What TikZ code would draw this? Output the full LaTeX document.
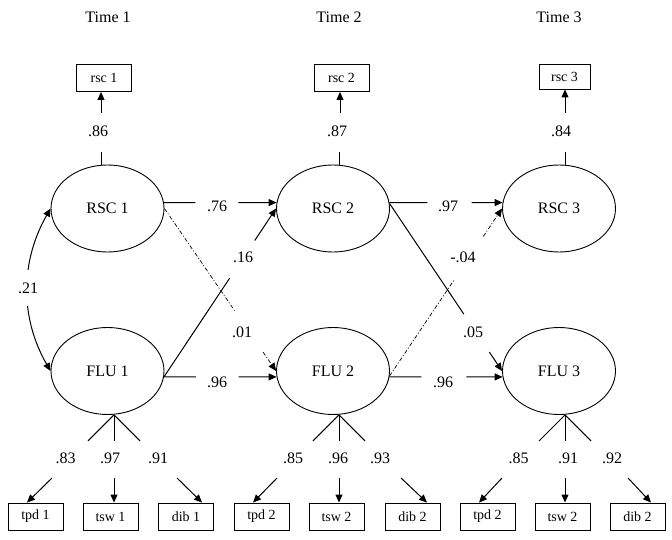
\documentclass[tikz,border=0pt]{standalone}
\usepackage{fontspec}
\setmainfont{Liberation Serif}
\usetikzlibrary{arrows.meta,shapes.geometric,calc}
\begin{document}
\begin{tikzpicture}[x=1pt,y=-1pt,
  lat/.style={draw,ellipse,minimum width=113pt,minimum height=87pt,inner sep=0pt,line width=0.9pt,font=\fontsize{16}{18}\selectfont},
  obs/.style={draw,rectangle,minimum width=55pt,minimum height=27pt,inner sep=0pt,line width=0.9pt,font=\fontsize{14}{16}\selectfont},
  lbl/.style={inner sep=0pt,font=\fontsize{16}{18}\selectfont},
  conn/.style={line width=1pt},
  tip/.style={-{Triangle[length=8pt,width=7pt]}},
  arr/.style={conn,tip},
  dd/.style={line width=0.7pt,dash pattern=on 4pt off 2pt on 1pt off 2pt},
]
\useasboundingbox (0,0) rectangle (672,540);

% time headers
\node[lbl] (time1) at (108,17) {Time 1};
\node[lbl] (time2) at (339,17) {Time 2};
\node[lbl] (time3) at (559,17) {Time 3};

% single indicators
\node[obs] (rsc1) at (104,78) {rsc 1};
\node[obs] (rsc2) at (341.5,78) {rsc 2};
\node[obs,minimum width=51pt,minimum height=25pt] (rsc3) at (564.5,76.5) {rsc 3};

% latent variables
\node[lat] (R1) at (107.5,208.5) {RSC 1};
\node[lat] (R2) at (333,208.5) {RSC 2};
\node[lat] (R3) at (559,208.5) {RSC 3};
\node[lat] (F1) at (107.5,371) {FLU 1};
\node[lat] (F2) at (333,371) {FLU 2};
\node[lat] (F3) at (559,371) {FLU 3};

% loadings on rsc
\coordinate (a1) at (101,113); \draw[arr] (a1) -- (a1 |- rsc1.south);
\coordinate (a2) at (340,113); \draw[arr] (a2) -- (a2 |- rsc2.south);
\coordinate (a3) at (565,113); \draw[arr] (a3) -- (a3 |- rsc3.south);
\node[lbl] (l86) at (98,131) {.86};
\node[lbl] (l87) at (337,131) {.87};
\node[lbl] (l84) at (561,131) {.84};
\coordinate (b1) at (101,152); \draw[conn] (b1) -- (b1 |- R1.north);
\coordinate (b2) at (339,152); \draw[conn] (b2) -- (b2 |- R2.north);
\coordinate (b3) at (565,152); \draw[conn] (b3) -- (b3 |- R3.north);

% autoregressive paths
\draw[conn] (R1.6) -- ($(R1.6)!0.28!(R2.174)$);
\draw[arr] ($(R1.6)!0.66!(R2.174)$) -- (R2.174);
\node[lbl] (l76) at (217,206) {.76};
\draw[conn] (R2.6) -- ($(R2.6)!0.336!(R3.174)$);
\draw[arr] ($(R2.6)!0.726!(R3.174)$) -- (R3.174);
\node[lbl] (l97) at (448,206) {.97};
\draw[conn] (F1.-6) -- ($(F1.-6)!0.283!(F2.186)$);
\draw[arr] ($(F1.-6)!0.664!(F2.186)$) -- (F2.186);
\node[lbl] (l96a) at (217,382) {.96};
\draw[conn] (F2.-6) -- ($(F2.-6)!0.283!(F3.186)$);
\draw[arr] ($(F2.-6)!0.68!(F3.186)$) -- (F3.186);
\node[lbl] (l96b) at (443,382) {.96};

% cross-lagged paths
\draw[conn] (F1.-6) -- ($(F1.-6)!0.586!(R2.west)$);
\draw[arr] ($(F1.-6)!0.81!(R2.west)$) -- (R2.west);
\node[lbl] (l16) at (243,257) {.16};
\draw[dd] (R1.east) -- ($(R1.east)!0.628!(F2.west)$);
\draw[dd,tip] ($(R1.east)!0.884!(F2.west)$) -- (F2.west);
\node[lbl] (l01) at (242,332) {.01};
\draw[conn] (R2.5) -- ($(R2.5)!0.66!(F3.west)$);
\draw[arr] ($(R2.5)!0.887!(F3.west)$) -- (F3.west);
\node[lbl] (l05) at (473,332) {.05};
\draw[dd] (F2.-5) -- ($(F2.-5)!0.571!(R3.west)$);
\draw[dd,tip] ($(F2.-5)!0.833!(R3.west)$) -- (R3.west);
\node[lbl] (l04) at (463,257) {-.04};

% covariance
\draw[conn,{Triangle[length=8pt,width=7pt]}-{Triangle[length=8pt,width=7pt]}]
  (R1.west) .. controls (20,262) and (20,318) .. (F1.west);
\node[lbl,fill=white,inner xsep=2pt,inner ysep=13pt] (l21) at (28,288) {.21};

% fan lines from FLU
\coordinate (p1) at ($(F1.south)+(6.5,0)$);
\coordinate (p2) at ($(F2.south)+(6,0)$);
\coordinate (p3) at ($(F3.south)+(6,0)$);
\foreach \p in {p1,p2,p3}{
  \draw[conn] (\p) -- +(-26,26);
  \draw[conn] (\p) -- +(0,26);
  \draw[conn] (\p) -- +(26,26);
}

% indicator boxes
\node[obs] (tpd1) at (35.5,516.5) {tpd 1};
\node[obs] (tsw1) at (110.5,516.5) {tsw 1};
\node[obs] (dib1) at (186,516.5) {dib 1};
\node[obs] (tpd2) at (261.5,516.5) {tpd 2};
\node[obs] (tsw2) at (336.5,516.5) {tsw 2};
\node[obs] (dib2) at (412.5,516.5) {dib 2};
\node[obs] (tpd3) at (487.5,516.5) {tpd 2};
\node[obs] (tsw3) at (562.5,516.5) {tsw 2};
\node[obs] (dib3) at (637.5,516.5) {dib 2};

% loading labels
\node[lbl] (l83) at (65.5,458) {.83};
\node[lbl] (l97b) at (110,458) {.97};
\node[lbl] (l91) at (158,458) {.91};
\node[lbl] (l85) at (293,458) {.85};
\node[lbl] (l96c) at (338,458) {.96};
\node[lbl] (l93) at (380,458) {.93};
\node[lbl] (l85b) at (518.5,458) {.85};
\node[lbl] (l91b) at (568,458) {.91};
\node[lbl] (l92) at (612,458) {.92};

% indicator arrows
\coordinate (s1) at (52,478);  \draw[arr] (s1) -- ($(tpd1.north)+(-8.5,0)$);
\coordinate (s2) at (114,478); \draw[arr] (s2) -- (s2 |- tsw1.north);
\coordinate (s3) at (177,478); \draw[arr] (s3) -- ($(dib1.north)+(16,0)$);
\coordinate (s4) at (277,478); \draw[arr] (s4) -- ($(tpd2.north)+(-8.5,0)$);
\coordinate (s5) at (339,478); \draw[arr] (s5) -- (s5 |- tsw2.north);
\coordinate (s6) at (401,478); \draw[arr] (s6) -- ($(dib2.north)+(14.5,0)$);
\coordinate (s7) at (502,478); \draw[arr] (s7) -- ($(tpd3.north)+(-8.5,0)$);
\coordinate (s8) at (565,478); \draw[arr] (s8) -- (s8 |- tsw3.north);
\coordinate (s9) at (628,478); \draw[arr] (s9) -- ($(dib3.north)+(13.5,0)$);
\end{tikzpicture}
\end{document}
